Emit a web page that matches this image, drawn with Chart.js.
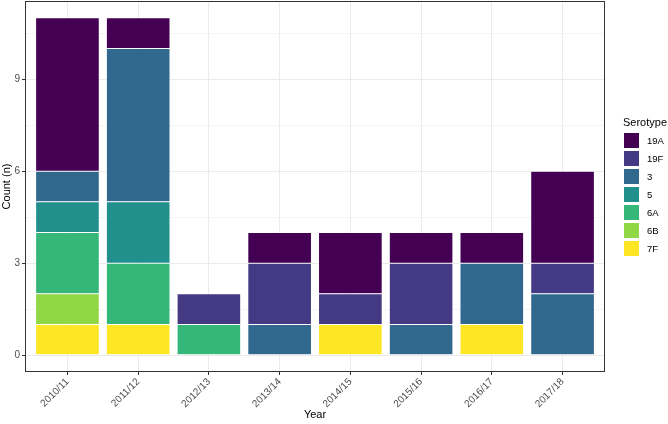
<!DOCTYPE html>
<html>
<head>
<meta charset="utf-8">
<script src="https://cdn.jsdelivr.net/npm/chart.js@4/dist/chart.umd.min.js"></script>
<style>
  html, body { margin: 0; padding: 0; background: #fff; }
  #wrap { width: 668px; height: 424px; }
</style>
</head>
<body>
<div id="wrap"><canvas id="bar-chart" width="668" height="424"></canvas></div>
<script>
var years = ['2010/11', '2011/12', '2012/13', '2013/14', '2014/15', '2015/16', '2016/17', '2017/18'];
var serotypes = ['7F', '6B', '6A', '5', '3', '19F', '19A'];
var colors = ['#FDE725', '#8FD744', '#35B779', '#21908C', '#31688E', '#443A83', '#440154'];

var s7F  = [1, 1, 0, 0, 1, 0, 1, 0];
var s6B  = [1, 0, 0, 0, 0, 0, 0, 0];
var s6A  = [2, 2, 1, 0, 0, 0, 0, 0];
var s5   = [1, 2, 0, 0, 0, 0, 0, 0];
var s3   = [1, 5, 0, 1, 0, 1, 2, 2];
var s19F = [0, 0, 1, 2, 1, 2, 0, 1];
var s19A = [5, 1, 0, 1, 2, 1, 1, 3];

var yTicks = [0, 3, 6, 9];
var yMinor = [1.5, 4.5, 7.5, 10.5];

var series = [s7F, s6B, s6A, s5, s3, s19F, s19A];
var font = '"Liberation Sans", Arial, Helvetica, sans-serif';

// ggplot-like frame and legend
var panelPlugin = {
    id: 'panel',
    afterDraw: function(chart) {
        var c = chart.ctx, a = chart.chartArea;
        c.save();
        c.strokeStyle = '#333333';
        c.lineWidth = 1;
        c.strokeRect(a.left + 0.5, a.top + 0.5, a.right - a.left - 1, a.bottom - a.top - 1);

        c.fillStyle = '#000';
        c.font = '11px ' + font;
        c.textBaseline = 'alphabetic';
        c.textAlign = 'left';
        c.fillText('Serotype', 623, 126);

        var ds = chart.data.datasets.slice().reverse();
        c.font = '9.5px ' + font;
        c.textBaseline = 'middle';
        ds.forEach(function(d, i) {
            var y = 133 + 18 * i;
            c.fillStyle = d.backgroundColor;
            c.fillRect(624, y, 15, 15);
            c.fillStyle = '#000';
            c.fillText(d.label, 647, y + 8);
        });
        c.restore();
    }
};

var ctx = document.getElementById('bar-chart');
var barChart = new Chart(ctx, {
    type: 'bar',
    data: {
        datasets: serotypes.map(function(s, k) {
            return {
                label: s,
                backgroundColor: colors[k],
                borderColor: '#ffffff',
                borderWidth: 0.5,
                borderSkipped: false,
                barPercentage: 0.9,
                categoryPercentage: 1,
                data: series[k].map(function(v, i) { return { x: i + 1, y: v }; })
            };
        })
    },
    plugins: [panelPlugin],
    options: {
        responsive: false,
        animation: false,
        layout: { padding: { left: 0, top: 1, right: 63, bottom: 0 } },
        plugins: { legend: { display: false }, tooltip: { enabled: false } },
        scales: {
            x: {
                type: 'linear',
                stacked: true,
                offset: false,
                min: 0.4,
                max: 8.6,
                afterBuildTicks: function(s) {
                    s.ticks = years.map(function(y, i) { return { value: i + 1 }; });
                },
                afterFit: function(s) {
                    s.height = 52;
                    s.paddingLeft = 0;
                    s.paddingRight = 0;
                },
                border: { display: false },
                grid: { offset: false, color: '#EBEBEB', lineWidth: 1, tickLength: 3, tickColor: '#333333' },
                ticks: {
                    autoSkip: false,
                    minRotation: 45,
                    maxRotation: 45,
                    padding: 1,
                    color: '#4D4D4D',
                    font: { family: font, size: 10 },
                    callback: function(v) { return years[v - 1]; }
                },
                title: {
                    display: true,
                    text: 'Year',
                    color: '#000',
                    font: { family: font, size: 11 },
                    padding: { top: 0, bottom: 2 }
                }
            },
            y: {
                stacked: true,
                min: -0.55,
                max: 11.55,
                afterBuildTicks: function(s) {
                    s.ticks = yTicks.concat(yMinor).sort(function(a, b) { return a - b; })
                        .map(function(v) { return { value: v }; });
                },
                afterFit: function(s) {
                    s.width = 25;
                    s.paddingTop = 0;
                    s.paddingBottom = 0;
                },
                border: { display: false },
                grid: {
                    lineWidth: 1,
                    tickLength: 3,
                    color: function(c) { return yTicks.indexOf(c.tick.value) >= 0 ? '#EBEBEB' : '#F4F4F4'; },
                    tickColor: function(c) { return yTicks.indexOf(c.tick.value) >= 0 ? '#333333' : 'rgba(0,0,0,0)'; }
                },
                ticks: {
                    padding: 2,
                    color: '#4D4D4D',
                    font: { family: font, size: 10 },
                    callback: function(v) { return yTicks.indexOf(v) >= 0 ? String(v) : ''; }
                },
                title: {
                    display: true,
                    text: 'Count (n)',
                    color: '#000',
                    font: { family: font, size: 11 },
                    padding: { top: 0, bottom: 0 }
                }
            }
        }
    }
});
</script>
</body>
</html>
